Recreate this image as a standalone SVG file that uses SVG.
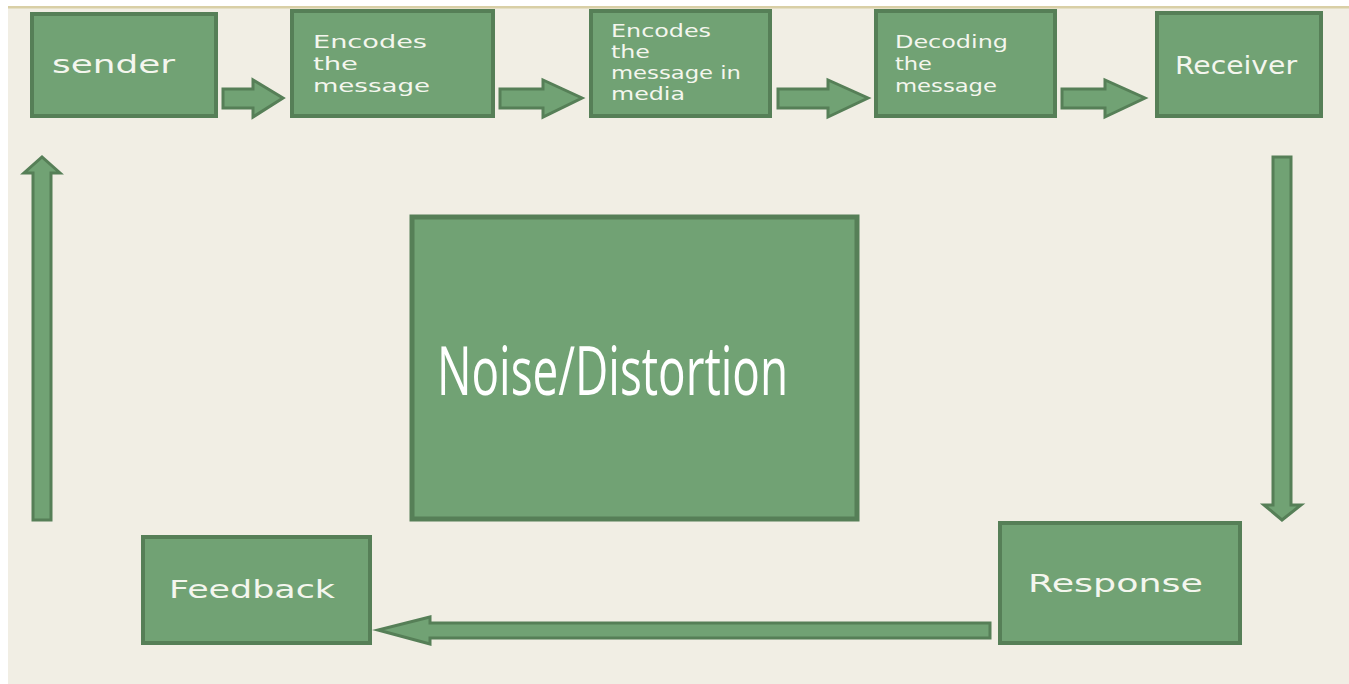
<svg xmlns="http://www.w3.org/2000/svg" width="1349" height="684" viewBox="0 0 1349 684">
<style>
.box{fill:#71a274;stroke:#567f57;stroke-width:4}
.arr{fill:#71a274;stroke:#567f57;stroke-width:3;stroke-linejoin:miter}
.lbl{font-family:"DejaVu Sans",Verdana,sans-serif;fill:#f4f6ee;font-size:18.5px}
.lbl4{font-family:"DejaVu Sans",Verdana,sans-serif;fill:#f4f6ee;font-size:18px}
.big{font-family:"DejaVu Sans",Verdana,sans-serif;fill:#f4f6ee;font-size:25px}
.noise{font-family:"Open Sans","Liberation Sans",sans-serif;fill:#ffffff;font-size:67px}
</style>
<rect x="0" y="0" width="1349" height="684" fill="#ffffff"/>
<rect x="8" y="6" width="1341" height="678" fill="#f1eee4"/>
<rect x="8" y="6" width="1341" height="2.5" fill="#d9cfa6"/>

<g id="connectors">
<polygon class="arr" points="223,89 253,89 253,80 283,98 253,117 253,108 223,108"/>
<polygon class="arr" points="500,89 543,89 543,80 582,98 543,117 543,108 500,108"/>
<polygon class="arr" points="778,89 828,89 828,80 868,98 828,117 828,108 778,108"/>
<polygon class="arr" points="1062,89 1105,89 1105,80 1145,98 1105,117 1105,108 1062,108"/>
<polygon class="arr" points="1273,157 1291,157 1291,505 1301,505 1282,520 1264,505 1273,505"/>
<polygon class="arr" points="990,623 430,623 430,617 378,630 430,644 430,638 990,638"/>
<polygon class="arr" points="33,520 33,173 24,173 42,157 60,173 51,173 51,520"/>
</g>

<g id="sender">
<rect class="box" x="32" y="14" width="184" height="102"/>
<text class="big" x="52" y="73" textLength="123" lengthAdjust="spacingAndGlyphs">sender</text>
</g>
<g id="encodes">
<rect class="box" x="292" y="11" width="201" height="105"/>
<text class="lbl" x="313" y="48" textLength="114" lengthAdjust="spacingAndGlyphs">Encodes</text>
<text class="lbl" x="313" y="70" textLength="45" lengthAdjust="spacingAndGlyphs">the</text>
<text class="lbl" x="313" y="92" textLength="117" lengthAdjust="spacingAndGlyphs">message</text>
</g>
<g id="media">
<rect class="box" x="591" y="11" width="179" height="105"/>
<text class="lbl4" x="611" y="37" textLength="100" lengthAdjust="spacingAndGlyphs">Encodes</text>
<text class="lbl4" x="611" y="58" textLength="39" lengthAdjust="spacingAndGlyphs">the</text>
<text class="lbl4" x="611" y="79" textLength="130" lengthAdjust="spacingAndGlyphs">message in</text>
<text class="lbl4" x="611" y="100" textLength="74" lengthAdjust="spacingAndGlyphs">media</text>
</g>
<g id="decoding">
<rect class="box" x="876" y="11" width="179" height="105"/>
<text class="lbl" x="895" y="48" textLength="113" lengthAdjust="spacingAndGlyphs">Decoding</text>
<text class="lbl" x="895" y="70" textLength="37" lengthAdjust="spacingAndGlyphs">the</text>
<text class="lbl" x="895" y="92" textLength="102" lengthAdjust="spacingAndGlyphs">message</text>
</g>
<g id="receiver">
<rect class="box" x="1157" y="13" width="164" height="103"/>
<text class="big" x="1175" y="74" textLength="122" lengthAdjust="spacingAndGlyphs">Receiver</text>
</g>
<g id="noise">
<rect class="box" x="412" y="217" width="445" height="302" style="stroke-width:5"/>
<text class="noise" x="437" y="395" textLength="351" lengthAdjust="spacingAndGlyphs">Noise/Distortion</text>
</g>
<g id="response">
<rect class="box" x="1000" y="523" width="240" height="120"/>
<text class="big" x="1028" y="592" textLength="175" lengthAdjust="spacingAndGlyphs">Response</text>
</g>
<g id="feedback">
<rect class="box" x="143" y="537" width="227" height="106"/>
<text class="big" x="169" y="598" textLength="166" lengthAdjust="spacingAndGlyphs">Feedback</text>
</g>
</svg>
